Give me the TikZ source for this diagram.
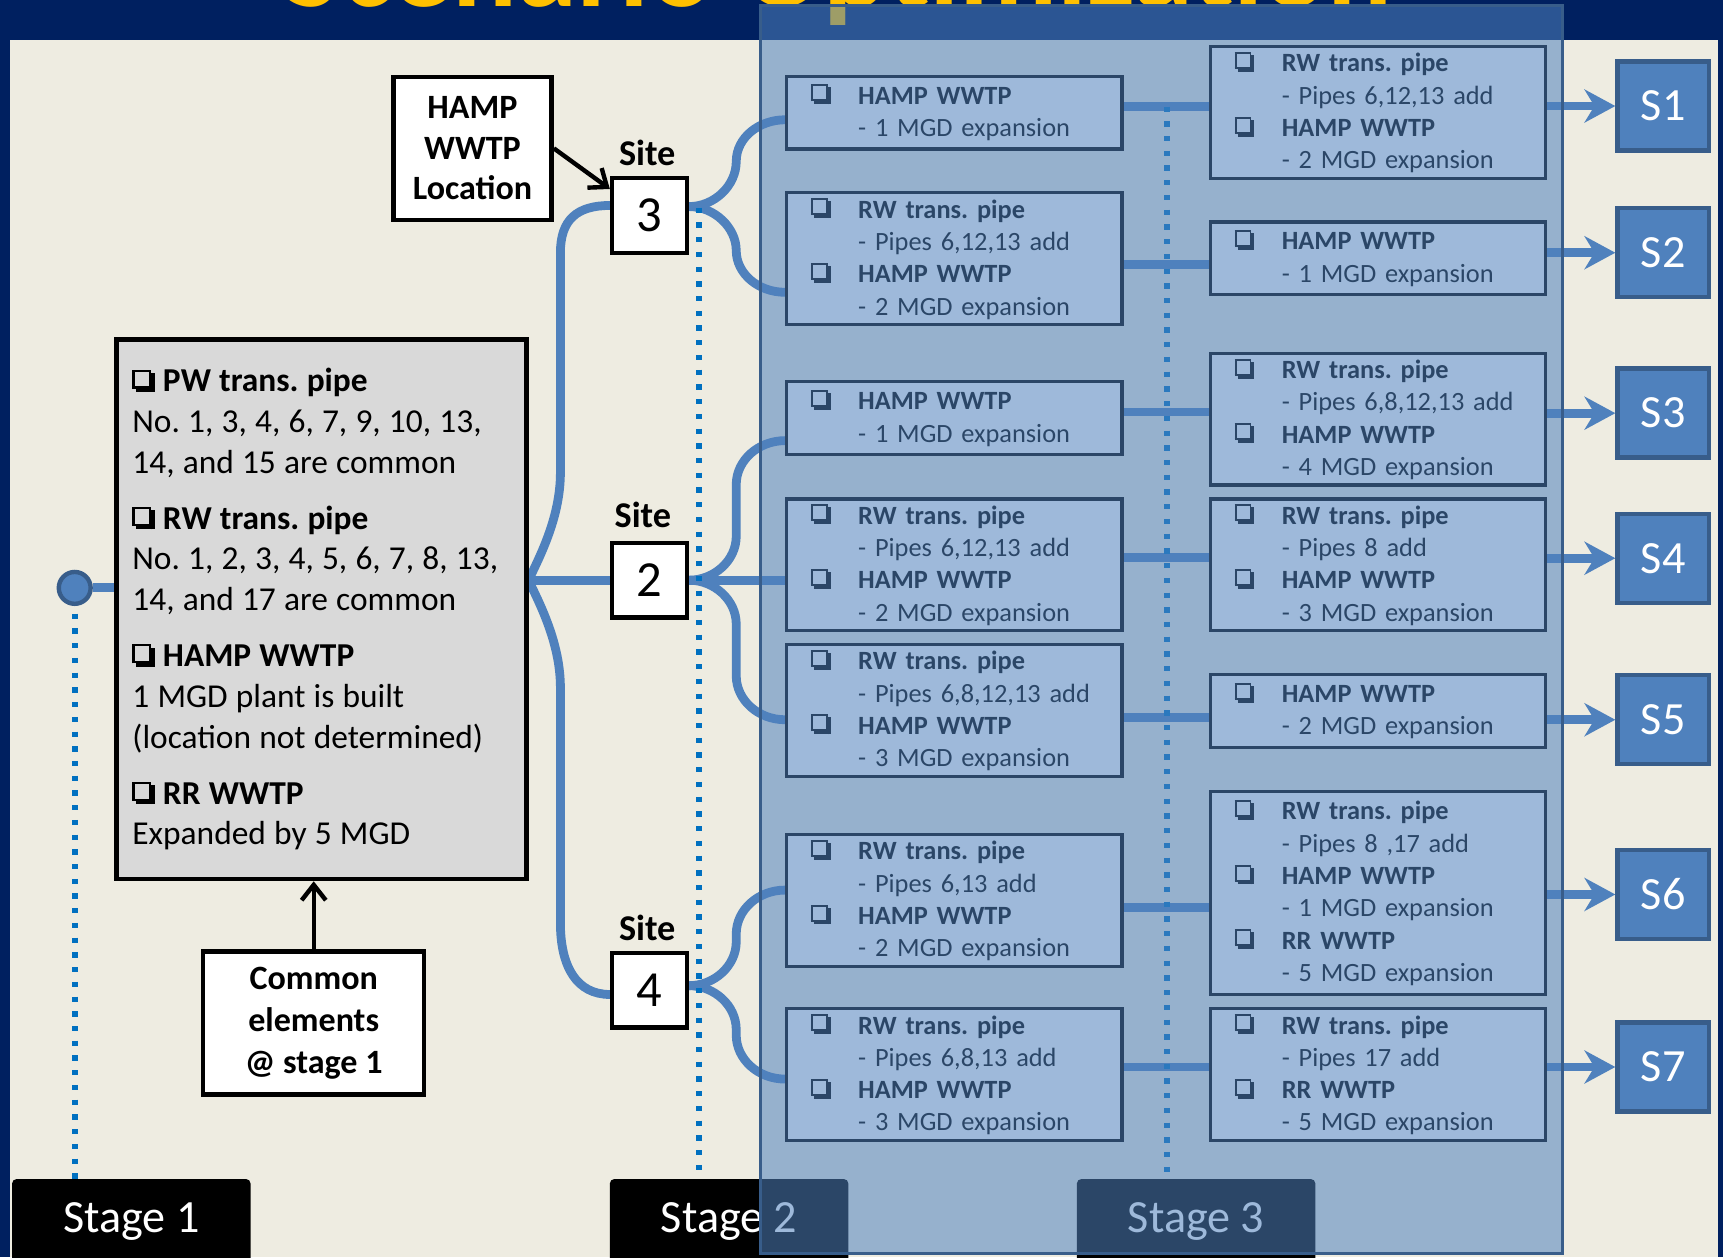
\documentclass[tikz,border=0pt]{standalone}
\usepackage{fontspec}
\usepackage{graphicx}
\setmainfont{Carlito}
\usetikzlibrary{arrows.meta}

\definecolor{navy}{HTML}{002060}
\definecolor{cream}{HTML}{EEECE1}
\definecolor{titleyellow}{HTML}{FFC000}
\definecolor{pipeblue}{HTML}{4F81BD}
\definecolor{edgeblue}{HTML}{385D8A}
\definecolor{dotblue}{HTML}{0070C0}
\definecolor{panelgray}{HTML}{D9D9D9}

\pgfdeclarelayer{backdrop}
\pgfdeclarelayer{links}
\pgfdeclarelayer{veil}
\pgfsetlayers{backdrop,links,main,veil}

% check box with a drop shadow, built from rules so it scales with the font
\newcommand\cbx{\raisebox{0.1em}{\hbox{%
  \rule{0.065em}{0.57em}\kern-0.065em%
  \rule{0.57em}{0.065em}\kern-0.57em%
  \rule[0.505em]{0.57em}{0.065em}\kern-0.065em%
  \rule{0.065em}{0.57em}%
  \rule[-0.1em]{0.1em}{0.57em}\kern-0.57em%
  \rule[-0.1em]{0.57em}{0.1em}}}}
% option line and its detail line inside the stage boxes
\newcommand\opt[1]{\makebox[21.5pt][l]{\fontsize{13.5}{14}\selectfont\cbx}\textbf{#1}}
\newcommand\sub[1]{\hspace*{21.5pt}#1}
% word spacing for the common-elements list
\newcommand\listspaces{\spaceskip=0.245em plus 0.05em\relax}

\begin{document}
\frenchspacing
\begin{tikzpicture}[x=0.5pt,y=-0.5pt,
  pipe/.style={draw=pipeblue, line width=4pt},
  feed/.style={pipe, -{Stealth[length=14pt,width=15pt,inset=4.5pt]}},
  stagedots/.style={draw=dotblue, line width=2.6pt, dash pattern=on 2.4pt off 4.3pt},
  callout/.style={draw=black, line width=2pt, fill=white, align=center, inner sep=0pt,
    font=\fontsize{15.5}{18.5}\selectfont\bfseries},
  sitebox/.style={draw=black, line width=2pt, fill=white, minimum size=34pt, inner sep=0pt,
    font=\fontsize{23}{26}\selectfont},
  sitelabel/.style={inner sep=0pt, font=\fontsize{16.5}{19}\selectfont\bfseries},
  graypanel/.style={draw=black, line width=2pt, fill=panelgray, inner xsep=7.25pt, inner ysep=0pt,
    text width=172pt, align=left, font=\fontsize{15.2}{18.5}\selectfont},
  optbox/.style={draw=black, line width=1.5pt, fill=white, inner xsep=11pt, inner ysep=0pt,
    text width=130.5pt, align=left, font=\fontsize{12}{14.7}\selectfont},
  twoline/.style={optbox, minimum height=33pt},
  fourline/.style={optbox, minimum height=60pt},
  sixline/.style={optbox, minimum height=92.5pt},
  scenario/.style={draw=edgeblue, line width=2pt, fill=pipeblue, text=white, minimum width=41.5pt,
    minimum height=40.5pt, inner sep=0pt, font=\fontsize{21}{24}\selectfont},
  stagetab/.style={fill=black, text=white, minimum width=108.5pt, minimum height=39pt,
    rounded corners=2pt, inner sep=0pt, font=\fontsize{21}{24}\selectfont},
  pointer/.style={draw=black, line width=2pt, -{Straight Barb[length=7pt,width=11pt]}},
  panelveil/.style={draw=edgeblue, line width=1.5pt, fill=pipeblue, fill opacity=0.55,
    inner sep=0pt, minimum width=365pt, minimum height=568pt}
]
\useasboundingbox (0,0) rectangle (1568,1144);
\clip (0,0) rectangle (1568,1144);

% slide background and title
\begin{pgfonlayer}{backdrop}
  \fill[navy] (0,0) rectangle (1568,1144);
  \node[anchor=base west, inner sep=0pt, text=titleyellow,
        font=\fontsize{55}{60}\selectfont\bfseries] (title) at (258,6) {Scenario Optimization};
  \fill[cream] (9,36) rectangle (1563,1144);
\end{pgfonlayer}

% stage tabs
\node[stagetab] (stg1) at (119.5,1112) {Stage 1};
\node[stagetab] (stg2) at (663.5,1112) {Stage 2};
\node[stagetab] (stg3) at (1088.5,1112) {Stage 3};

% stage 1
\node[circle, draw=edgeblue, line width=2pt, fill=pipeblue, minimum size=14.5pt, inner sep=0pt]
  (start) at (68,535) {};
\node[graypanel, minimum height=245.5pt] (gbox) at (292.5,554.5) {\listspaces
  \cbx\ \textbf{PW trans. pipe}\\
  \mbox{No. 1, 3, 4, 6, 7, 9, 10, 13,}\\
  14, and 15 are common\\[7pt]
  \cbx\ \textbf{RW trans. pipe}\\
  \mbox{No. 1, 2, 3, 4, 5, 6, 7, 8, 13,}\\
  14, and 17 are common\\[7pt]
  \cbx\ \textbf{HAMP WWTP}\\
  1 MGD plant is built\\
  \mbox{(location not determined)}\\[7pt]
  \cbx\ \textbf{RR WWTP}\\
  Expanded by 5 MGD};
\node[callout, minimum width=72pt, minimum height=65pt] (hamp) at (430,135) {HAMP\\WWTP\\Location};
\node[callout, minimum width=100.5pt, minimum height=65pt, font=\fontsize{15.5}{19}\selectfont\bfseries]
  (common) at (285.5,931) {Common\\elements\\@ stage 1};

% sites
\node[sitebox] (site3) at (591,196) {3};
\node[sitebox] (site2) at (591,528) {2};
\node[sitebox] (site4) at (591,901) {4};
\node[sitelabel] (lab3) at (589,139) {Site};
\node[sitelabel] (lab2) at (585,469) {Site};
\node[sitelabel] (lab4) at (589,844) {Site};

% stage 2 options
\node[twoline]  (A1) at (868.5,102.5) {\opt{HAMP WWTP}\\\sub{- 1 MGD expansion}};
\node[fourline] (A2) at (868.5,235.5) {\opt{RW trans. pipe}\\\sub{- Pipes 6,12,13 add}\\\opt{HAMP WWTP}\\\sub{- 2 MGD expansion}};
\node[twoline]  (A3) at (868.5,380.5) {\opt{HAMP WWTP}\\\sub{- 1 MGD expansion}};
\node[fourline] (A4) at (868.5,514) {\opt{RW trans. pipe}\\\sub{- Pipes 6,12,13 add}\\\opt{HAMP WWTP}\\\sub{- 2 MGD expansion}};
\node[fourline] (A5) at (868.5,646.5) {\opt{RW trans. pipe}\\\sub{- Pipes 6,8,12,13 add}\\\opt{HAMP WWTP}\\\sub{- 3 MGD expansion}};
\node[fourline] (A6) at (868.5,819.5) {\opt{RW trans. pipe}\\\sub{- Pipes 6,13 add}\\\opt{HAMP WWTP}\\\sub{- 2 MGD expansion}};
\node[fourline] (A7) at (868.5,978) {\opt{RW trans. pipe}\\\sub{- Pipes 6,8,13 add}\\\opt{HAMP WWTP}\\\sub{- 3 MGD expansion}};

% stage 3 options
\node[fourline] (B1) at (1254,102.5) {\opt{RW trans. pipe}\\\sub{- Pipes 6,12,13 add}\\\opt{HAMP WWTP}\\\sub{- 2 MGD expansion}};
\node[twoline]  (B2) at (1254,235) {\opt{HAMP WWTP}\\\sub{- 1 MGD expansion}};
\node[fourline] (B3) at (1254,381.5) {\opt{RW trans. pipe}\\\sub{- Pipes 6,8,12,13 add}\\\opt{HAMP WWTP}\\\sub{- 4 MGD expansion}};
\node[fourline] (B4) at (1254,514) {\opt{RW trans. pipe}\\\sub{- Pipes 8 add}\\\opt{HAMP WWTP}\\\sub{- 3 MGD expansion}};
\node[twoline]  (B5) at (1254,647) {\opt{HAMP WWTP}\\\sub{- 2 MGD expansion}};
\node[sixline]  (B6) at (1254,812.5) {\opt{RW trans. pipe}\\\sub{- Pipes 8 ,17 add}\\\opt{HAMP WWTP}\\\sub{- 1 MGD expansion}\\\opt{RR WWTP}\\\sub{- 5 MGD expansion}};
\node[fourline] (B7) at (1254,978) {\opt{RW trans. pipe}\\\sub{- Pipes 17 add}\\\opt{RR WWTP}\\\sub{- 5 MGD expansion}};

% scenarios
\node[scenario] (S1) at (1513.5,96.5) {S1};
\node[scenario] (S2) at (1513.5,230) {S2};
\node[scenario] (S3) at (1513.5,376) {S3};
\node[scenario] (S4) at (1513.5,508) {S4};
\node[scenario] (S5) at (1513.5,655) {S5};
\node[scenario] (S6) at (1513.5,814) {S6};
\node[scenario] (S7) at (1513.5,971) {S7};

\begin{pgfonlayer}{links}
  % stage 1 to the sites
  \draw[pipe] (start.east) -- (start.east -| gbox.west);
  \draw[pipe] (gbox.east |- site2.west) -- (site2.west);
  \draw[pipe] (gbox.east |- site2.west) .. controls (492,505) and (510,470) .. (510,430)
    -- (510,230) .. controls (510,200) and (525,187) .. (site3.west |- 0,187);
  \draw[pipe] (gbox.east |- site2.west) .. controls (492,551) and (510,586) .. (510,626)
    -- (510,840) .. controls (510,880) and (525,905) .. (site4.west |- 0,905);
  % sites to stage 2
  \draw[pipe] (site3.east |- 0,188) .. controls (650,188) and (670,169) .. (670,147)
    .. controls (670,125) and (691,109) .. (A1.west |- 0,109);
  \draw[pipe] (site3.east |- 0,188) .. controls (650,188) and (670,207) .. (670,228)
    .. controls (670,249) and (690,266) .. (A2.west |- 0,266);
  \draw[pipe] (site2.east) .. controls (650,528) and (670,510) .. (670,488) -- (670,441)
    .. controls (670,419) and (690,401) .. (A3.west |- 0,401);
  \draw[pipe] (site2.east) -- (A4.west |- site2.east);
  \draw[pipe] (site2.east) .. controls (650,528) and (670,546) .. (670,568) -- (670,615)
    .. controls (670,637) and (690,655) .. (A5.west |- 0,655);
  \draw[pipe] (site4.east |- 0,897) .. controls (650,897) and (670,879) .. (670,857) -- (670,850)
    .. controls (670,828) and (690,810) .. (A6.west |- 0,810);
  \draw[pipe] (site4.east |- 0,897) .. controls (650,897) and (670,915) .. (670,937) -- (670,942)
    .. controls (670,964) and (690,982) .. (A7.west |- 0,982);
  % stage 2 to stage 3
  \draw[pipe] (A1.east |- 0,97) -- (B1.west |- 0,97);
  \draw[pipe] (A2.east |- 0,241) -- (B2.west |- 0,241);
  \draw[pipe] (A3.east |- 0,375) -- (B3.west |- 0,375);
  \draw[pipe] (A4.east |- 0,507) -- (B4.west |- 0,507);
  \draw[pipe] (A5.east |- 0,653) -- (B5.west |- 0,653);
  \draw[pipe] (A6.east |- 0,826) -- (B6.west |- 0,826);
  \draw[pipe] (A7.east |- 0,971) -- (B7.west |- 0,971);
  % stage 3 to scenarios
  \draw[feed] (B1.east |- S1.west) -- (S1.west);
  \draw[feed] (B2.east |- S2.west) -- (S2.west);
  \draw[feed] (B3.east |- S3.west) -- (S3.west);
  \draw[feed] (B4.east |- S4.west) -- (S4.west);
  \draw[feed] (B5.east |- S5.west) -- (S5.west);
  \draw[feed] (B6.east |- S6.west) -- (S6.west);
  \draw[feed] (B7.east |- S7.west) -- (S7.west);
\end{pgfonlayer}

% callout pointers
\draw[pointer] (hamp.east) -- ([yshift=-6pt]site3.north west);
\draw[pointer] (common.north) -- (common.north |- gbox.south);

% stage guide lines
\coordinate (d2) at (636,189);
\coordinate (d3) at (1062,97);
\draw[stagedots] ([yshift=-3.5pt]start.south) -- (start.south |- stg1.north);
\draw[stagedots] (d2) -- (d2 |- stg2.north);
\draw[stagedots] (d3) -- (d3 |- stg3.north);

% translucent panel over stages 2 and 3
\begin{pgfonlayer}{veil}
  \node[panelveil] (panel) at (1057,573) {};
\end{pgfonlayer}
\end{tikzpicture}
\end{document}
